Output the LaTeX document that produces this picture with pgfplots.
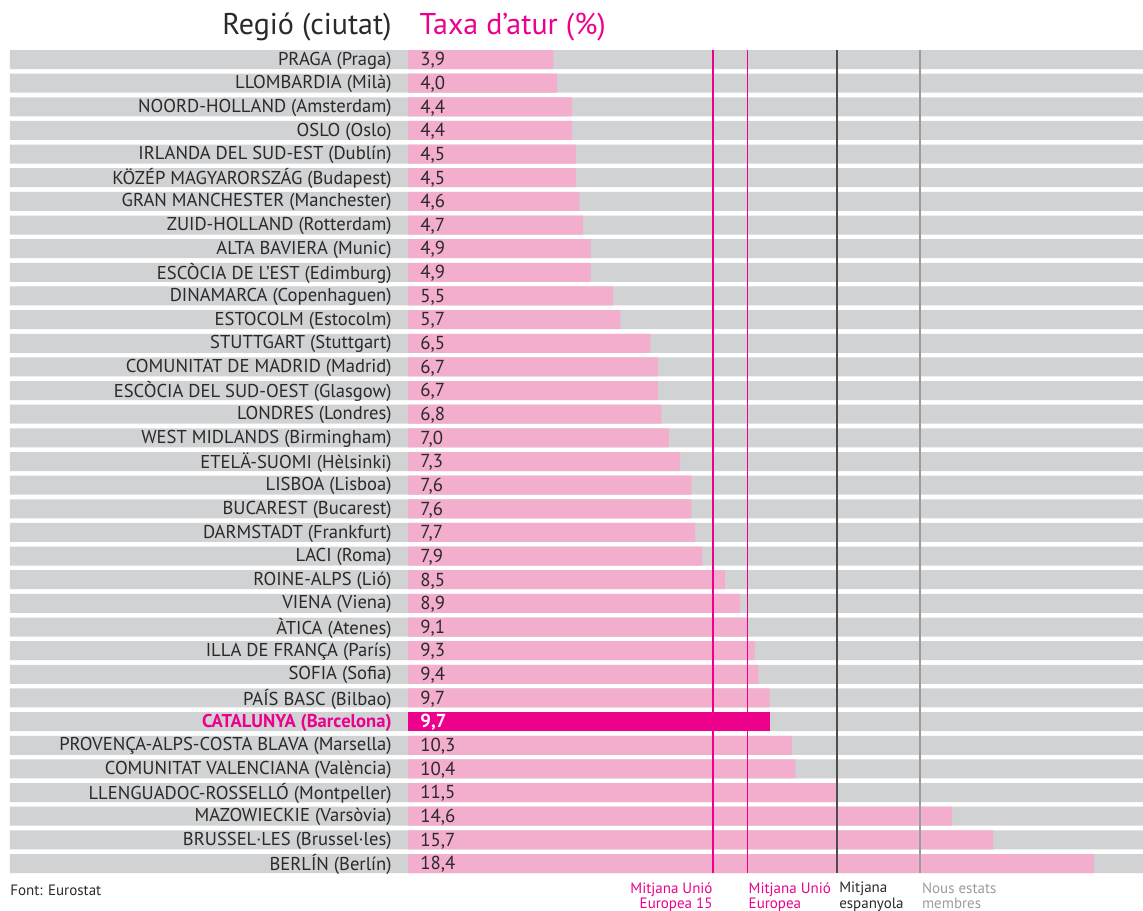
\documentclass[border=0pt]{standalone}
\usepackage{pgfplots}
\pgfplotsset{compat=1.18}
\usepackage{pgfplotstable}
\usepackage{fontspec}
\setmainfont{PT Sans}
\definecolor{pinkbar}{HTML}{F3ADCD}
\definecolor{rowgray}{HTML}{D1D2D4}
\definecolor{mag}{HTML}{EC008C}
\definecolor{txt}{HTML}{2A2A2A}
\definecolor{spain}{HTML}{4D4D4D}
\definecolor{nms}{HTML}{9C9C9C}

\pgfplotstableread{
idx val
1 3.9
2 4.0
3 4.4
4 4.4
5 4.5
6 4.5
7 4.6
8 4.7
9 4.9
10 4.9
11 5.5
12 5.7
13 6.5
14 6.7
15 6.7
16 6.8
17 7.0
18 7.3
19 7.6
20 7.6
21 7.7
22 7.9
23 8.5
24 8.9
25 9.1
26 9.3
27 9.4
28 9.7
30 10.3
31 10.4
32 11.5
33 14.6
34 15.7
35 18.4
}\others

\pgfplotstableread{
idx val
29 9.7
}\cat

\pgfplotstableread{
idx left right
1 -10.68 19.72
2 -10.68 19.72
3 -10.68 19.72
4 -10.68 19.72
5 -10.68 19.72
6 -10.68 19.72
7 -10.68 19.72
8 -10.68 19.72
9 -10.68 19.72
10 -10.68 19.72
11 -10.68 19.72
12 -10.68 19.72
13 -10.68 19.72
14 -10.68 19.72
15 -10.68 19.72
16 -10.68 19.72
17 -10.68 19.72
18 -10.68 19.72
19 -10.68 19.72
20 -10.68 19.72
21 -10.68 19.72
22 -10.68 19.72
23 -10.68 19.72
24 -10.68 19.72
25 -10.68 19.72
26 -10.68 19.72
27 -10.68 19.72
28 -10.68 19.72
29 -10.68 19.72
30 -10.68 19.72
31 -10.68 19.72
32 -10.68 19.72
33 -10.68 19.72
34 -10.68 19.72
35 -10.68 19.72
}\rows

\begin{document}
\begin{tikzpicture}
\useasboundingbox (-5pt,-18.5pt) rectangle (566.5pt,436.5pt);
\begin{axis}[
  at={(0,0)}, anchor=south west,
  scale only axis, width=566.5pt, height=411.5pt,
  xmin=-10.68, xmax=19.72, ymin=0.598, ymax=35.402,
  y dir=reverse,
  axis on top,
  axis line style={draw=none},
  xtick=\empty,
  ytick={1,...,35},
  major tick length=0pt,
  yticklabels={
    {PRAGA (Praga)},
    {LLOMBARDIA (Milà)},
    {NOORD-HOLLAND (Amsterdam)},
    {OSLO (Oslo)},
    {IRLANDA DEL SUD-EST (Dublín)},
    {KÖZÉP MAGYARORSZÁG (Budapest)},
    {GRAN MANCHESTER (Manchester)},
    {ZUID-HOLLAND (Rotterdam)},
    {ALTA BAVIERA (Munic)},
    {ESCÒCIA DE L'EST (Edimburg)},
    {DINAMARCA (Copenhaguen)},
    {ESTOCOLM (Estocolm)},
    {STUTTGART (Stuttgart)},
    {COMUNITAT DE MADRID (Madrid)},
    {ESCÒCIA DEL SUD-OEST (Glasgow)},
    {LONDRES (Londres)},
    {WEST MIDLANDS (Birmingham)},
    {ETELÄ-SUOMI (Hèlsinki)},
    {LISBOA (Lisboa)},
    {BUCAREST (Bucarest)},
    {DARMSTADT (Frankfurt)},
    {LACI (Roma)},
    {ROINE-ALPS (Lió)},
    {VIENA (Viena)},
    {ÀTICA (Atenes)},
    {ILLA DE FRANÇA (París)},
    {SOFIA (Sofia)},
    {PAÍS BASC (Bilbao)},
    {\textcolor{mag}{\bfseries CATALUNYA (Barcelona)}},
    {PROVENÇA-ALPS-COSTA BLAVA (Marsella)},
    {COMUNITAT VALENCIANA (València)},
    {LLENGUADOC-ROSSELLÓ (Montpeller)},
    {MAZOWIECKIE (Varsòvia)},
    {BRUSSEL·LES (Brussel·les)},
    {BERLÍN (Berlín)}
  },
  yticklabel style={font=\fontsize{9.3pt}{10pt}\selectfont, text=txt, anchor=east, inner sep=0pt, xshift=191pt, yshift=-0.5pt},
  clip=false,
  /pgf/number format/use comma,
  /pgf/number format/fixed,
  /pgf/number format/fixed zerofill,
  /pgf/number format/precision=1,
  /pgf/number format/assume math mode=true,
]
% gray row backgrounds
\addplot[xbar, bar width=9.5pt, bar shift=0pt, fill=rowgray, draw=none] table[x=right, y=idx]{\rows};
\addplot[xbar, bar width=9.5pt, bar shift=0pt, fill=rowgray, draw=none] table[x=left, y=idx]{\rows};
% bars
\addplot[xbar, bar width=9.5pt, bar shift=0pt, fill=pinkbar, draw=none] table[x=val, y=idx]{\others};
\addplot[xbar, bar width=9.5pt, bar shift=0pt, fill=mag, draw=none] table[x=val, y=idx]{\cat};
% reference lines
\addplot[mag, line width=0.7pt] coordinates {(8.18,0.598) (8.18,35.402)};
\addplot[mag, line width=0.7pt] coordinates {(9.11,0.598) (9.11,35.402)};
\addplot[spain, line width=1pt] coordinates {(11.52,0.598) (11.52,35.402)};
\addplot[nms, line width=0.8pt] coordinates {(13.74,0.598) (13.74,35.402)};
% value labels
\addplot[draw=none, nodes near coords, point meta=explicit,
  nodes near coords style={anchor=west, inner sep=0pt, xshift=6pt, yshift=-0.5pt, font=\fontsize{9.4pt}{10pt}\selectfont, text=txt}]
  table[x expr=0, y=idx, meta=val]{\others};
\addplot[draw=none, nodes near coords, point meta=explicit,
  nodes near coords style={anchor=west, inner sep=0pt, xshift=6pt, yshift=-0.5pt, font=\fontsize{9.4pt}{10pt}\selectfont\bfseries, text=white}]
  table[x expr=0, y=idx, meta=val]{\cat};
% titles
\node[anchor=east, inner sep=0pt, font=\fontsize{15pt}{17pt}\selectfont, text=txt] at (axis cs:-0.43,-0.37) {Regió (ciutat)};
\node[anchor=west, inner sep=0pt, font=\fontsize{15pt}{17pt}\selectfont, text=mag] at (axis cs:0.30,-0.37) {Taxa d’atur (\%)};
% bottom notes
\node[anchor=west, inner sep=0pt, font=\fontsize{7.5pt}{7.8pt}\selectfont, text=txt] at (axis cs:-10.68,36.12) {Font: Eurostat};
\node[anchor=north east, inner sep=0pt, align=right, font=\fontsize{7.5pt}{7.8pt}\selectfont, text=mag] at (axis cs:8.18,35.78) {Mitjana Unió\\Europea 15};
\node[anchor=north west, inner sep=0pt, align=left, font=\fontsize{7.5pt}{7.8pt}\selectfont, text=mag] at (axis cs:9.13,35.78) {Mitjana Unió\\Europea};
\node[anchor=north west, inner sep=0pt, align=left, font=\fontsize{7.5pt}{7.8pt}\selectfont, text=txt] at (axis cs:11.56,35.78) {Mitjana\\espanyola};
\node[anchor=north west, inner sep=0pt, align=left, font=\fontsize{7.5pt}{7.8pt}\selectfont, text=nms] at (axis cs:13.78,35.78) {Nous estats\\membres};
\end{axis}
\end{tikzpicture}
\end{document}
